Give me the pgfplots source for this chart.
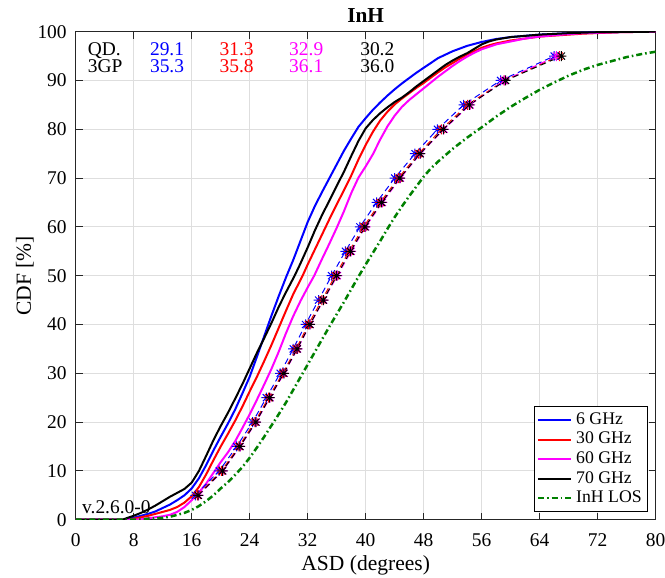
\documentclass[border=0pt]{standalone}
\usepackage{fontspec}
\setmainfont{Liberation Serif}
\usepackage{pgfplots}
\pgfplotsset{compat=1.18}
\definecolor{mgreen}{rgb}{0,0.5,0}
\definecolor{mmag}{rgb}{1,0,1}
\definecolor{mblue}{rgb}{0,0,1}
\definecolor{mred}{rgb}{1,0,0}
\pgfdeclareplotmark{mstar}{%
 \pgfpathmoveto{\pgfqpoint{-\pgfplotmarksize}{0pt}}\pgfpathlineto{\pgfqpoint{\pgfplotmarksize}{0pt}}%
 \pgfpathmoveto{\pgfqpoint{0pt}{-\pgfplotmarksize}}\pgfpathlineto{\pgfqpoint{0pt}{\pgfplotmarksize}}%
 \pgfpathmoveto{\pgfqpoint{-0.707\pgfplotmarksize}{-0.707\pgfplotmarksize}}\pgfpathlineto{\pgfqpoint{0.707\pgfplotmarksize}{0.707\pgfplotmarksize}}%
 \pgfpathmoveto{\pgfqpoint{-0.707\pgfplotmarksize}{0.707\pgfplotmarksize}}\pgfpathlineto{\pgfqpoint{0.707\pgfplotmarksize}{-0.707\pgfplotmarksize}}%
 \pgfusepathqstroke}
\newcommand{\tf}{\fontsize{9.75}{11}\selectfont}
\begin{document}
\begin{tikzpicture}
\begin{axis}[
  at={(0,0)}, anchor=south west,
  scale only axis, width=290bp, height=244bp,
  xmin=0, xmax=80, ymin=0, ymax=100,
  xtick={0,8,...,80}, ytick={0,10,...,100},
  tick align=inside, major tick length=3.5bp,
  grid=major,
  major grid style={color=black!13, line width=0.5bp},
  axis line style={color=black!85, line width=0.5bp},
  every tick/.style={color=black!85, line width=0.5bp},
  /pgf/number format/assume math mode=true,
  tick label style={font=\tf},
  xticklabel style={anchor=base, yshift=-13.15bp},
  yticklabel style={xshift=-1bp},
  xlabel={ASD (degrees)},
  xlabel style={at={(axis description cs:0.5,0)}, anchor=base, yshift=-25.5bp, font=\fontsize{10.8}{12}\selectfont},
  ylabel={CDF [\%]},
  ylabel style={at={(axis description cs:-0.0771,0.5)}, anchor=base, rotate=0, font=\fontsize{10.8}{12}\selectfont},
  legend style={at={(axis description cs:1,0)}, anchor=south east, xshift=-3.75bp, yshift=3.85bp,
    draw=black, line width=0.5bp, fill=white, font=\fontsize{8.9}{10}\selectfont,
    inner sep=1bp, row sep=-1.6bp, cells={anchor=west}},
  legend image code/.code={\draw[#1] (0bp,0bp) -- (16.5bp,0bp);},
  clip=true,
]
\addplot[mblue, line width=1bp] coordinates {
(0,0)(7,0)(8,0.4)(9,0.8)(10,1.2)(11,1.7)(12,2.4)(13,3.1)(14,4.0)(15,5.0)(16,6.4)(17,8.5)(18,11.2)(19,14.2)(20,17.0)(21,19.7)(22,22.6)(23,25.9)(24,29.3)(25,33.4)(26,37.6)(27,41.8)(28,45.8)(29.1,50)(30,53.2)(31,57.1)(32,61.0)(33,64.3)(34,67.2)(35,70.0)(36,72.8)(37,75.6)(38,78.1)(39,80.5)(40,82.3)(41,84.0)(42,85.5)(43,86.9)(44,88.2)(45,89.4)(46,90.5)(47,91.6)(48,92.6)(49,93.6)(50,94.6)(52,96.0)(54,97.1)(56,97.9)(58,98.5)(60,98.9)(64,99.4)(68,99.7)(72,99.9)(80,100)};
\addlegendentry{6 GHz}
\addplot[mred, line width=1bp] coordinates {
(0,0)(7.5,0)(8,0.2)(9,0.5)(10,0.8)(11,1.2)(12,1.6)(13,2.0)(14,2.6)(15,3.5)(16,4.8)(17,6.7)(18,9.3)(19,12.2)(20,15.0)(21,17.6)(22,20.3)(23,23.2)(24,26.3)(25,29.3)(26,32.5)(27,35.8)(28,39.3)(29,42.8)(30,46.2)(31.3,50)(32,52.3)(33,55.4)(34,58.5)(35,61.6)(36,64.6)(37,67.5)(38,70.5)(39,73.8)(40,76.8)(41,79.5)(42,81.8)(43,83.6)(44,85.1)(45,86.3)(46,87.4)(47,88.5)(48,89.5)(49,90.6)(50,91.7)(51,92.7)(52,93.6)(53,94.5)(54,95.3)(55,96.0)(56,96.7)(57,97.2)(58,97.6)(60,98.2)(62,98.6)(64,99.0)(67,99.3)(70,99.6)(75,99.9)(80,100)};
\addlegendentry{30 GHz}
\addplot[mmag, line width=1bp] coordinates {
(0,0)(8,0)(9,0.1)(10,0.3)(11,0.5)(12,0.7)(13,1.0)(14,1.6)(15,2.6)(16,4.0)(17,5.6)(18,7.4)(19,9.6)(20,11.8)(21,13.8)(22,16.1)(23,18.8)(24,21.6)(25,24.6)(26,27.7)(27,30.9)(28,34.4)(29,38.2)(30,41.7)(31,44.8)(32,47.6)(32.9,50)(34,53.5)(35,56.6)(36,59.8)(37,63.2)(38,66.9)(39,70.1)(40,72.4)(41,74.9)(42,77.9)(43,80.6)(44,82.8)(45,84.6)(46,86.0)(47,87.2)(48,88.4)(49,89.6)(50,90.8)(51,91.9)(52,93.0)(53,94.0)(54,94.9)(55,95.7)(56,96.4)(57,96.9)(58,97.4)(60,98.0)(62,98.6)(64,99.0)(67,99.4)(70,99.7)(75,99.9)(80,100)};
\addlegendentry{60 GHz}
\addplot[black, line width=1bp] coordinates {
(0,0)(6.5,0)(7,0.3)(8,0.8)(9,1.4)(10,2.1)(11,2.9)(12,3.8)(13,4.7)(14,5.5)(15,6.3)(16,7.6)(17,10.0)(18,13.1)(19,16.3)(20,19.2)(21,21.9)(22,24.8)(23,27.8)(24,31.0)(25,34.2)(26,37.2)(27,40.3)(28,43.6)(29,46.6)(30.2,50)(31,52.5)(32,55.8)(33,59.3)(34,62.5)(35,65.4)(36,68.4)(37,71.3)(38,74.5)(39,77.6)(40,80.2)(41,81.9)(42,83.3)(43,84.5)(44,85.6)(45,86.5)(46,87.6)(47,88.8)(48,89.9)(49,91.0)(50,92.1)(51,93.2)(52,94.1)(53,94.9)(54,95.6)(55,96.5)(56,97.4)(57,98.0)(58,98.4)(60,98.9)(64,99.4)(68,99.7)(72,99.9)(80,100)};
\addlegendentry{70 GHz}
\addplot[mgreen, line width=1.25bp, dash pattern=on 3bp off 1.5bp on 0.8bp off 1.5bp] coordinates {
(0,0)(8,0)(9,0.05)(10,0.2)(11,0.3)(12,0.4)(13,0.6)(14,1.0)(15,1.4)(16,2.0)(17,2.8)(18,3.8)(19,5.0)(20,6.4)(21,7.7)(22,9.2)(23,10.8)(24,12.7)(25,14.8)(26,17.0)(27,19.3)(28,21.6)(29,24.0)(30,26.6)(31,29.2)(32,31.8)(33,34.4)(34,37.0)(35,39.6)(36,42.1)(37,44.6)(38,47.2)(39,49.8)(40,52.3)(41,54.7)(42,57.1)(43,59.6)(44,62.0)(45,64.2)(46,66.3)(47,68.3)(48,70.3)(49,72.0)(50,73.4)(52,76.0)(54,78.3)(56,80.4)(58,82.6)(60,84.6)(62,86.4)(64,88.1)(66,89.6)(68,91.0)(70,92.2)(72,93.2)(74,94.0)(76,94.8)(78,95.4)(80,95.9)};
\addlegendentry{InH LOS}
\addplot[mblue, line width=0.5bp, dash pattern=on 3bp off 2bp, mark=mstar, mark size=2.5bp, mark options={solid}, forget plot] coordinates {
(16.5,5)(19.8,10)(22.2,15)(24.4,20)(26.3,25)(28.2,30)(30.0,35)(31.7,40)(33.5,45)(35.3,50)(37.2,55)(39.2,60)(41.5,65)(44.0,70)(46.8,75)(49.9,80)(53.5,85)(58.6,90)(66.0,95)};
\addplot[mred, line width=0.5bp, dash pattern=on 3bp off 2bp, mark=mstar, mark size=2.5bp, mark options={solid}, forget plot] coordinates {
(16.8,5)(20.1,10)(22.5,15)(24.7,20)(26.6,25)(28.55,30)(30.4,35)(32.1,40)(33.95,45)(35.8,50)(37.7,55)(39.7,60)(42.0,65)(44.5,70)(47.3,75)(50.45,80)(54.05,85)(59.1,90)(66.7,95)};
\addplot[mmag, line width=0.5bp, dash pattern=on 3bp off 2bp, mark=mstar, mark size=2.5bp, mark options={solid}, forget plot] coordinates {
(16.95,5)(20.3,10)(22.7,15)(24.9,20)(26.8,25)(28.75,30)(30.6,35)(32.35,40)(34.2,45)(36.1,50)(38.0,55)(40.0,60)(42.3,65)(44.8,70)(47.55,75)(50.8,80)(54.4,85)(59.1,90)(66.3,95)};
\addplot[black, line width=0.5bp, dash pattern=on 3bp off 2bp, mark=mstar, mark size=2.5bp, mark options={solid}, forget plot] coordinates {
(16.9,5)(20.25,10)(22.65,15)(24.85,20)(26.75,25)(28.7,30)(30.55,35)(32.3,40)(34.15,45)(36.0,50)(37.9,55)(39.9,60)(42.2,65)(44.7,70)(47.5,75)(50.7,80)(54.3,85)(59.3,90)(67.0,95)};
\node[anchor=base west, font=\tf] at (axis cs:0.7,95.2) {QD.};
\node[anchor=base west, font=\tf] at (axis cs:0.7,91.6) {3GP};
\node[anchor=base, font=\tf, text=mblue] at (axis cs:12.6,95.2) {29.1};
\node[anchor=base, font=\tf, text=mred] at (axis cs:22.2,95.2) {31.3};
\node[anchor=base, font=\tf, text=mmag] at (axis cs:31.8,95.2) {32.9};
\node[anchor=base, font=\tf, text=black] at (axis cs:41.6,95.2) {30.2};
\node[anchor=base, font=\tf, text=mblue] at (axis cs:12.6,91.6) {35.3};
\node[anchor=base, font=\tf, text=mred] at (axis cs:22.2,91.6) {35.8};
\node[anchor=base, font=\tf, text=mmag] at (axis cs:31.8,91.6) {36.1};
\node[anchor=base, font=\tf, text=black] at (axis cs:41.6,91.6) {36.0};
\node[anchor=base west, font=\tf, inner sep=0.5bp] at (axis cs:0.7,1.3) {v.2.6.0-0};
\end{axis}
\node[anchor=base, font=\bfseries\fontsize{10.7}{12}\selectfont] at (145bp,248.5bp) {InH};
\pgfresetboundingbox
\useasboundingbox (-37.85bp,-29.15bp) rectangle (294.65bp,259.85bp);
\end{tikzpicture}
\end{document}
